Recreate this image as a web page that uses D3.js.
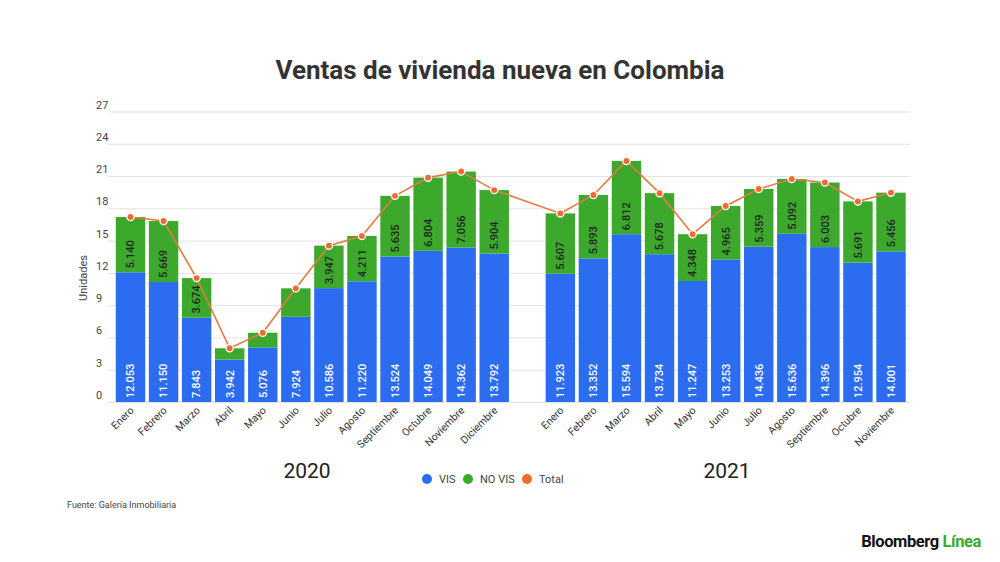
<!DOCTYPE html>
<html>
<head>
<meta charset="utf-8">
<script src="https://cdn.jsdelivr.net/npm/d3@7"></script>
<style>
  body { margin: 0; background: #fff; }
  svg { font-family: Roboto, "Noto Sans", sans-serif; }
  .grid line { stroke: #e3e3e3; }
  .grid .domain { display: none; }
</style>
</head>
<body>
<div id="container"></div>
<script>
const months2020 = ["Enero","Febrero","Marzo","Abril","Mayo","Junio","Julio","Agosto","Septiembre","Octubre","Noviembre","Diciembre"];
const months2021 = ["Enero","Febrero","Marzo","Abril","Mayo","Junio","Julio","Agosto","Septiembre","Octubre","Noviembre"];
const vis2020 = [12.053, 11.150, 7.843, 3.942, 5.076, 7.924, 10.586, 11.220, 13.524, 14.049, 14.362, 13.792];
const noVis2020 = [5.140, 5.669, 3.674, 1.05, 1.36, 2.64, 3.947, 4.211, 5.635, 6.804, 7.056, 5.904];
const vis2021 = [11.923, 13.352, 15.594, 13.734, 11.247, 13.253, 14.436, 15.636, 14.396, 12.954, 14.001];
const noVis2021 = [5.607, 5.893, 6.812, 5.678, 4.348, 4.965, 5.359, 5.092, 6.003, 5.691, 5.456];
const yTicks = [0, 3, 6, 9, 12, 15, 18, 21, 24, 27];
const years = ["2020", "2021"];
const legendItems = ["VIS", "NO VIS", "Total"];

const blue = "#2c6cf0", green = "#3ca92c", orange = "#f06c2e";

// rows with an empty slot between the two years
const rows = [];
months2020.forEach((m, i) => rows.push({key: "2020-" + m, month: m, vis: vis2020[i], noVis: noVis2020[i]}));
rows.push({key: "gap", month: "", vis: null, noVis: null});
months2021.forEach((m, i) => rows.push({key: "2021-" + m, month: m, vis: vis2021[i], noVis: noVis2021[i]}));
const bars = rows.filter(d => d.vis !== null);
bars.forEach(d => d.total = d.vis + d.noVis);

const W = 1000, H = 562;
const svg = d3.select("#container").append("svg")
  .attr("width", W).attr("height", H);

const x = d3.scaleBand()
  .domain(rows.map(d => d.key))
  .range([110.5, 911])
  .paddingInner(0.11)
  .paddingOuter(0.16);

const y = d3.scaleLinear()
  .domain([0, 27])
  .range([402, 111.5]);

// title
svg.append("text")
  .attr("x", 500).attr("y", 79)
  .attr("text-anchor", "middle")
  .attr("font-size", 26).attr("font-weight", 700)
  .attr("fill", "#333")
  .text("Ventas de vivienda nueva en Colombia");

// grid lines
svg.append("g")
  .attr("class", "grid")
  .attr("transform", "translate(108,0)")
  .call(d3.axisRight(y).tickValues(yTicks).tickSize(802).tickFormat(""));

// y tick labels sit above their line
svg.append("g").selectAll("text")
  .data(yTicks).enter().append("text")
  .attr("x", 96).attr("y", d => y(d) - 3)
  .attr("font-size", 11).attr("fill", "#444")
  .text(d => d);

svg.append("text")
  .attr("transform", "translate(87,278) rotate(-90)")
  .attr("text-anchor", "middle")
  .attr("font-size", 11).attr("fill", "#444")
  .text("Unidades");

// stacked bars
const g = svg.append("g");
g.selectAll(".vis").data(bars).enter().append("rect")
  .attr("x", d => x(d.key)).attr("width", x.bandwidth())
  .attr("y", d => y(d.vis)).attr("height", d => y(0) - y(d.vis))
  .attr("fill", blue);
g.selectAll(".novis").data(bars).enter().append("rect")
  .attr("x", d => x(d.key)).attr("width", x.bandwidth())
  .attr("y", d => y(d.total)).attr("height", d => y(d.vis) - y(d.total))
  .attr("fill", green);

const fmt = v => v.toFixed(3);
const cx = d => x(d.key) + x.bandwidth() / 2;

// value labels, read upward from the bottom of each segment
g.selectAll(".vlab").data(bars).enter().append("text")
  .attr("transform", d => `translate(${cx(d)},${y(0) - 4}) rotate(-90)`)
  .attr("dy", "0.35em")
  .attr("font-size", 11).attr("font-weight", 500).attr("fill", "#fff")
  .text(d => fmt(d.vis));
g.selectAll(".nlab").data(bars.filter(d => y(d.vis) - y(d.total) > 38)).enter().append("text")
  .attr("transform", d => `translate(${cx(d)},${y(d.vis) - 4}) rotate(-90)`)
  .attr("dy", "0.35em")
  .attr("font-size", 11).attr("font-weight", 500).attr("fill", "#222")
  .text(d => fmt(d.noVis));

// total line
const line = d3.line().x(cx).y(d => y(d.total));
svg.append("path")
  .datum(bars)
  .attr("d", line)
  .attr("fill", "none")
  .attr("stroke", "#e57a3e")
  .attr("stroke-width", 1.6);
svg.append("g").selectAll("circle")
  .data(bars).enter().append("circle")
  .attr("cx", cx).attr("cy", d => y(d.total))
  .attr("r", 3.6)
  .attr("fill", orange)
  .attr("stroke", "#fff").attr("stroke-width", 1.3);

// month labels
svg.append("g").selectAll("text")
  .data(bars).enter().append("text")
  .attr("transform", d => `translate(${cx(d) + 4},${411}) rotate(-45)`)
  .attr("text-anchor", "end")
  .attr("font-size", 10.5).attr("fill", "#333")
  .text(d => d.month);

// year labels
svg.append("g").selectAll("text")
  .data(years).enter().append("text")
  .attr("x", (d, i) => i === 0 ? 307 : 727)
  .attr("y", 478)
  .attr("text-anchor", "middle")
  .attr("font-size", 21).attr("fill", "#222")
  .text(d => d);

// legend
const legendX = [427, 468, 527];
const legendColors = [blue, green, orange];
const lg = svg.append("g").selectAll("g")
  .data(legendItems).enter().append("g")
  .attr("transform", (d, i) => `translate(${legendX[i]},479)`);
lg.append("circle").attr("r", 5).attr("fill", (d, i) => legendColors[i]);
lg.append("text")
  .attr("x", 12).attr("dy", "0.35em")
  .attr("font-size", 11).attr("fill", "#444")
  .text(d => d);

// source
svg.append("text")
  .attr("x", 67).attr("y", 508)
  .attr("font-size", 9).attr("fill", "#444")
  .text("Fuente: Galería Inmobiliaria");

// brand
const brand = svg.append("text")
  .attr("x", 981).attr("y", 547)
  .attr("text-anchor", "end")
  .attr("font-size", 16.5).attr("font-weight", 700)
  .attr("letter-spacing", -0.4);
brand.append("tspan").attr("fill", "#111").text("Bloomberg ");
brand.append("tspan").attr("fill", "#3ca92c").text("Línea");
</script>
</body>
</html>
